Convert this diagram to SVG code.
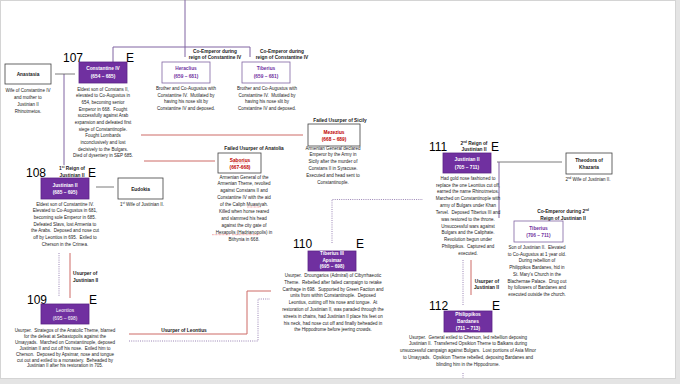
<svg xmlns="http://www.w3.org/2000/svg" width="680" height="384" viewBox="0 0 680 384">
<style>
text{font-family:"Liberation Sans",Arial,sans-serif}
.d{font-size:4.5px;fill:#222;text-anchor:middle}
.l{font-size:4.8px;font-weight:bold;fill:#1a1a1a;text-anchor:middle}
.bt{font-size:4.8px;font-weight:bold;fill:#fff;text-anchor:middle}
.pt{font-size:4.8px;font-weight:bold;fill:#7030a0;text-anchor:middle}
.rt{font-size:4.8px;font-weight:bold;fill:#c00000;text-anchor:middle}
.n{font-size:12px;fill:#000}
.pb{fill:#7030a0;stroke:#5b2585;stroke-width:0.8}
.wb{fill:#fff;stroke:#404040;stroke-width:0.8}
.lb{fill:#fff;stroke:#8064a2;stroke-width:0.8}
.pl{fill:none;stroke:#8064a2;stroke-width:1}
.gl{fill:none;stroke:#595959;stroke-width:0.8}
.rl{fill:none;stroke:#cd6a67;stroke-width:1}
.dl{fill:none;stroke:#8064a2;stroke-width:0.8;stroke-dasharray:1 1.2}
.sq{fill:none;stroke:#e03030;stroke-width:0.5;stroke-dasharray:0.8 0.6}
</style>
<rect x="0" y="0" width="680" height="384" fill="#e4e4e4"/>
<rect x="0.5" y="0.5" width="675" height="378" fill="#fff" stroke="#d4d4d4" stroke-width="1"/>

<g id="connectors">
<path class="pl" d="M185,0V57"/>
<path class="pl" d="M113,62V47H250V57"/>
<path class="pl" d="M64,74V165"/>
<path class="gl" d="M55,74H75"/>
<path class="gl" d="M96,187H114"/>
<path class="gl" d="M497,162H562"/>
<path class="pl" d="M499,162V218"/>
<path class="rl" d="M141,135H303"/>
<path class="rl" d="M144,161H215"/>
<path class="rl" d="M70,253V298"/>
<path class="rl" d="M129,334H247V291H271"/>
<path class="rl" d="M471,260V295"/>
<path class="dl" d="M59,253V297"/>
<path class="dl" d="M129,341H258V299H270"/>
<path class="dl" d="M332,243V199.5H423"/>
<path class="dl" d="M463,260V305"/>
<path class="dl" d="M463,373V378"/>
<text class="l" x="184" y="332">Usurper of Leontius</text>
<text class="l" x="73" y="274.7" style="text-anchor:start">Usurper of<tspan x="73" dy="7">Justinian II</tspan></text>
<text class="l" x="499" y="282.5" style="text-anchor:end">Usurper of<tspan x="499" dy="6.5">Justinian II</tspan></text>
</g>

<g id="anastasia">
<rect class="wb" x="5" y="64" width="46" height="20"/>
<text class="l" x="28" y="76.4">Anastasia</text>
<text class="d" x="28" y="91.5">Wife of Constantine IV<tspan x="28" dy="7">and mother to</tspan><tspan x="28" dy="7">Justinian II</tspan><tspan x="28" dy="7">Rhinotmetos.</tspan></text>
</g>

<g id="constantine-iv">
<text class="n" x="63" y="61.5">107</text>
<text class="n" x="126" y="61.5">E</text>
<rect class="pb" x="79" y="62" width="48" height="21"/>
<text class="bt" x="103" y="70.4">Constantine IV<tspan x="103" dy="7.3">(654 – 685)</tspan></text>
<text class="d" x="103" y="90.8">Eldest son of Constans II,<tspan x="103" dy="6.65">elevated to Co-Augustus in</tspan><tspan x="103" dy="6.65">654, becoming senior</tspan><tspan x="103" dy="6.65">Emperor in 668.&#160; Fought</tspan><tspan x="103" dy="6.65">successfully against Arab</tspan><tspan x="103" dy="6.65">expansion and defeated first</tspan><tspan x="103" dy="6.65">siege of Constantinople.</tspan><tspan x="103" dy="6.65">Fought Lombards</tspan><tspan x="103" dy="6.65">inconclusively and lost</tspan><tspan x="103" dy="6.65">decisively to the Bulgars.</tspan><tspan x="103" dy="6.65">Died of dysentery in SEP 685.</tspan></text>
</g>

<g id="heraclius">
<text class="l" x="215" y="52.7">Co-Emperor during<tspan x="215" dy="6.3">reign of Constantine IV</tspan></text>
<rect class="lb" x="162" y="62" width="48" height="21"/>
<text class="pt" x="186" y="70.4">Heraclius<tspan x="186" dy="7.3">(659 – 681)</tspan></text>
<text class="d" x="186" y="89.8">Brother and Co-Augustus with<tspan x="186" dy="6.7">Constantine IV.&#160; Mutilated by</tspan><tspan x="186" dy="6.7">having his nose slit by</tspan><tspan x="186" dy="6.7">Constantine IV and deposed.</tspan></text>
</g>

<g id="tiberius-co">
<text class="l" x="282" y="52.7">Co-Emperor during<tspan x="282" dy="6.3">reign of Constantine IV</tspan></text>
<rect class="lb" x="242" y="62" width="48" height="21"/>
<text class="pt" x="266" y="70.4">Tiberius<tspan x="266" dy="7.3">(659 – 681)</tspan></text>
<text class="d" x="267" y="89.8">Brother and Co-Augustus with<tspan x="267" dy="6.7">Constantine IV.&#160; Mutilated by</tspan><tspan x="267" dy="6.7">having his nose slit by</tspan><tspan x="267" dy="6.7">Constantine IV and deposed.</tspan></text>
</g>

<g id="mezezius">
<text class="l" x="340" y="121.7">Failed Usurper of Sicily</text>
<rect class="wb" x="308" y="124" width="52" height="22"/>
<text class="rt" x="334" y="133.7">Mezezius<tspan x="334" dy="7">(668 – 689)</tspan></text>
<text class="d" x="333" y="149.5">Armenian General declared<tspan x="333" dy="6.8">Emperor by the Army in</tspan><tspan x="333" dy="6.8">Sicily after the murder of</tspan><tspan x="333" dy="6.8">Constans II in Syracuse.</tspan><tspan x="333" dy="6.8">Executed and head sent to</tspan><tspan x="333" dy="6.8">Constantinople.</tspan></text>
</g>

<g id="saborius">
<text class="l" x="254" y="149.7">Failed Usurper of Anatolia</text>
<rect class="wb" x="218" y="153" width="43" height="20"/>
<text class="rt" x="240" y="161.7">Saborius<tspan x="240" dy="7">(667-668)</tspan></text>
<path class="sq" d="M233,163H248"/>
<text class="d" x="244" y="178.5">Armenian General of the<tspan x="244" dy="6.9">Armenian Theme, revolted</tspan><tspan x="244" dy="6.9">against Constans II and</tspan><tspan x="244" dy="6.9">Constantine IV with the aid</tspan><tspan x="244" dy="6.9">of the Caliph Muawiyah.</tspan><tspan x="244" dy="6.9">Killed when horse reared</tspan><tspan x="244" dy="6.9">and slammed his head</tspan><tspan x="244" dy="6.9">against the city gate of</tspan><tspan x="244" dy="6.9">Hexapolis (Hadrianopolis) in</tspan><tspan x="244" dy="6.9">Bithynia in 668.</tspan></text>
<path class="sq" d="M247,207H261M212,234.7H230M232,234.7H260"/>
</g>

<g id="justinian-ii-1">
<text class="n" x="26" y="177">108</text>
<text class="n" x="88" y="177">E</text>
<text class="l" x="72" y="169.7">1<tspan font-size="3" dy="-1.5">st</tspan><tspan dy="1.5"> Reign of</tspan><tspan x="72" dy="7">Justinian II</tspan></text>
<rect class="pb" x="41" y="178" width="48" height="21"/>
<text class="bt" x="65" y="186.7">Justinian II<tspan x="65" dy="7.5">(685 – 695)</tspan></text>
<text class="d" x="65" y="205.5">Eldest son of Constantine IV.<tspan x="65" dy="6.7">Elevated to Co-Augustus in 681,</tspan><tspan x="65" dy="6.7">becoming sole Emperor in 685.</tspan><tspan x="65" dy="6.7">Defeated Slavs, lost Armenia to</tspan><tspan x="65" dy="6.7">the Arabs.&#160; Deposed and nose cut</tspan><tspan x="65" dy="6.7">off by Leontios in 695.&#160; Exiled to</tspan><tspan x="65" dy="6.7">Cherson in the Crimea.</tspan></text>
</g>

<g id="eudokia">
<rect class="wb" x="118" y="178" width="45" height="21"/>
<text class="l" x="140.5" y="190.7">Eudokia</text>
<text class="d" x="142" y="205.5">1<tspan font-size="3" dy="-1.4">st</tspan><tspan dy="1.4"> Wife of Justinian II.</tspan></text>
</g>

<g id="leontios">
<text class="n" x="27" y="303.5">109</text>
<text class="n" x="89" y="303.5">E</text>
<rect class="pb" x="41" y="304" width="48" height="20"/>
<text class="bt" x="65" y="311.7" style="font-weight:normal">Leontios<tspan x="65" dy="8">(695 – 698)</tspan></text>
<text class="d" x="65" y="332">Usurper.&#160; Strategos of the Anatolic Theme, blamed<tspan x="65" dy="5.9">for the defeat at Sebastopolis against the</tspan><tspan x="65" dy="5.9">Umayyads.&#160; Marched on Constantinople, deposed</tspan><tspan x="65" dy="5.9">Justinian II and cut off his nose.&#160; Exiled him to</tspan><tspan x="65" dy="5.9">Cherson.&#160; Deposed by Apsimar, nose and tongue</tspan><tspan x="65" dy="5.9">cut out and exiled to a monastery.&#160; Beheaded by</tspan><tspan x="65" dy="5.9">Justinian II after his restoration in 705.</tspan></text>
</g>

<g id="tiberius-iii">
<text class="n" x="293" y="247.5">110</text>
<text class="n" x="356" y="247.5">E</text>
<rect class="pb" x="308" y="251" width="48" height="20"/>
<text class="bt" x="332" y="255.2">Tiberius III<tspan x="332" dy="6.6">Apsimar</tspan><tspan x="332" dy="6.6">(695 – 698)</tspan></text>
<text class="d" x="333" y="277">Usurper.&#160; Droungarios (Admiral) of Cibyrrhaeotic<tspan x="333" dy="6.8">Theme.&#160; Rebelled after failed campaign to retake</tspan><tspan x="333" dy="6.8">Carthage in 698.&#160; Supported by Green Faction and</tspan><tspan x="333" dy="6.8">units from within Constantinople.&#160; Deposed</tspan><tspan x="333" dy="6.8">Leontius, cutting off his nose and tongue.&#160; At</tspan><tspan x="333" dy="6.8">restoration of Justinian II, was paraded through the</tspan><tspan x="333" dy="6.8">streets in chains, had Justinian II place his feet on</tspan><tspan x="333" dy="6.8">his neck, had nose cut off and finally beheaded in</tspan><tspan x="333" dy="6.8">the Hippodrome before jeering crowds.</tspan></text>
</g>

<g id="justinian-ii-2">
<text class="n" x="429" y="151">111</text>
<text class="n" x="491" y="151">E</text>
<text class="l" x="474" y="144.5">2<tspan font-size="3" dy="-1.5">nd</tspan><tspan dy="1.5"> Reign of</tspan><tspan x="474" dy="6.5">Justinian II</tspan></text>
<rect class="pb" x="443" y="153" width="48" height="20"/>
<text class="bt" x="467" y="160.7">Justinian II<tspan x="467" dy="8">(705 – 711)</tspan></text>
<text class="d" x="468" y="179.8">Had gold nose fashioned to<tspan x="468" dy="6.82">replace the one Leontius cut off,</tspan><tspan x="468" dy="6.82">earned the name Rhinotmetos.</tspan><tspan x="468" dy="6.82">Marched on Constantinople with</tspan><tspan x="468" dy="6.82">army of Bulgars under Khan</tspan><tspan x="468" dy="6.82">Tervel.&#160; Deposed Tiberius III and</tspan><tspan x="468" dy="6.82">was restored to the throne.</tspan><tspan x="468" dy="6.82">Unsuccessful wars against</tspan><tspan x="468" dy="6.82">Bulgars and the Caliphate.</tspan><tspan x="468" dy="6.82">Revolution begun under</tspan><tspan x="468" dy="6.82">Philippikus.&#160; Captured and</tspan><tspan x="468" dy="6.82">executed.</tspan></text>
</g>

<g id="theodora">
<rect class="wb" x="566" y="153" width="46" height="21"/>
<text class="l" x="589" y="161.7">Theodora of<tspan x="589" dy="7">Khazaria</tspan></text>
<text class="d" x="588" y="180.5">2<tspan font-size="3" dy="-1.4">nd</tspan><tspan dy="1.4"> Wife of Justinian II.</tspan></text>
</g>

<g id="tiberius-son">
<text class="l" x="563" y="212.5">Co-Emperor during 2<tspan font-size="3" dy="-1.5">nd</tspan><tspan x="563" dy="8.5">Reign of Justinian II</tspan></text>
<rect class="lb" x="514" y="221" width="49" height="21"/>
<text class="pt" x="538.5" y="229.7">Tiberius<tspan x="538.5" dy="7">(706 – 711)</tspan></text>
<text class="d" x="537" y="248.8">Son of Justinian II.&#160; Elevated<tspan x="537" dy="6.77">to Co-Augustus at 1 year old.</tspan><tspan x="537" dy="6.77">During rebellion of</tspan><tspan x="537" dy="6.77">Philippikos Bardanes, hid in</tspan><tspan x="537" dy="6.77">St. Mary's Church in the</tspan><tspan x="537" dy="6.77">Blachernae Palace.&#160; Drug out</tspan><tspan x="537" dy="6.77">by followers of Bardanes and</tspan><tspan x="537" dy="6.77">executed outside the church.</tspan></text>
</g>

<g id="philippikos">
<text class="n" x="429" y="309.5">112</text>
<text class="n" x="492" y="309.5">E</text>
<rect class="pb" x="444" y="311" width="48" height="21"/>
<text class="bt" x="468" y="316.2">Philippikos<tspan x="468" dy="7">Bardanes</tspan><tspan x="468" dy="7">(711 – 713)</tspan></text>
<text class="d" x="468" y="338.5">Usurper.&#160; General exiled to Cherson, led rebellion deposing<tspan x="468" dy="6.75">Justinian II.&#160; Transferred Opsikion Theme to Balkans during</tspan><tspan x="468" dy="6.75">unsuccessful campaign against Bulgars.&#160; Lost portions of Asia Minor</tspan><tspan x="468" dy="6.75">to Umayyads.&#160; Opsikion Theme rebelled, deposing Bardanes and</tspan><tspan x="468" dy="6.75">blinding him in the Hippodrome.</tspan></text>
</g>
</svg>
